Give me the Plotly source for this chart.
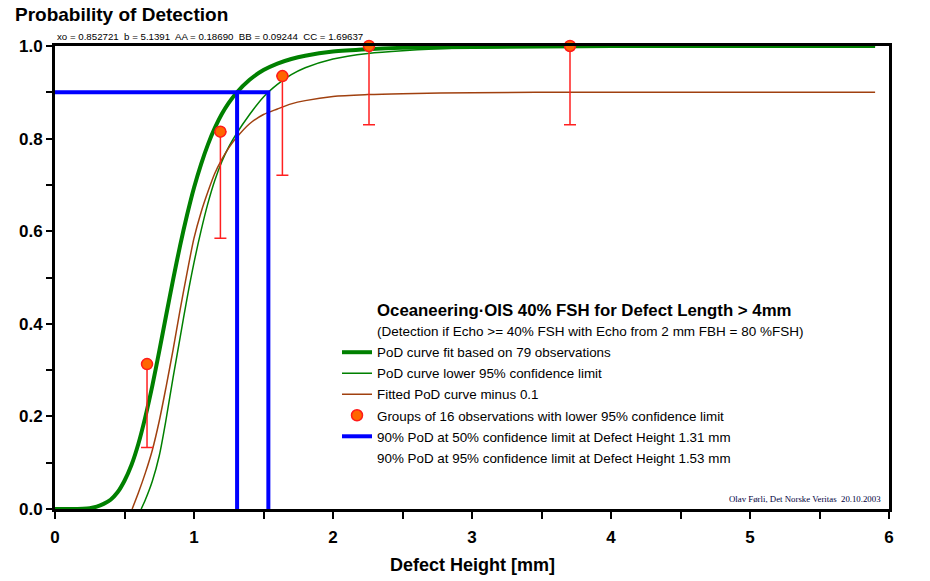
import plotly.graph_objects as go

# ---------------- data ----------------
fit_x = [0, 0.1, 0.2, 0.25, 0.3, 0.35, 0.4, 0.45, 0.5, 0.55, 0.6, 0.65, 0.7, 0.75, 0.8,
         0.85, 0.9, 0.95, 1.0, 1.05, 1.1, 1.15, 1.2, 1.25, 1.3, 1.4, 1.5, 1.6, 1.7, 1.8,
         2.0, 2.25, 2.5, 3.0, 3.5, 4.0, 5.0, 5.9]
fit_y = [0, 0.0, 0.0006, 0.0017, 0.005, 0.011, 0.020, 0.036, 0.061, 0.095, 0.141, 0.199,
         0.266, 0.341, 0.419, 0.496, 0.569, 0.635, 0.694, 0.744, 0.787, 0.823, 0.853,
         0.877, 0.897, 0.927, 0.948, 0.962, 0.972, 0.979, 0.988, 0.993, 0.996, 0.998,
         0.999, 1.0, 1.0, 1.0]

low_x = [0.62, 0.65, 0.7, 0.75, 0.8, 0.85, 0.9, 0.95, 1.0, 1.05, 1.1, 1.15, 1.2, 1.25,
         1.3, 1.4, 1.5, 1.6, 1.7, 1.8, 2.0, 2.25, 2.5, 3.0, 3.5, 4.5, 5.9]
low_y = [0.0, 0.02, 0.06, 0.115, 0.195, 0.285, 0.37, 0.455, 0.532, 0.6, 0.66, 0.71, 0.75,
         0.782, 0.808, 0.852, 0.89, 0.917, 0.938, 0.953, 0.972, 0.984, 0.99, 0.996, 0.998,
         0.999, 1.0]

minus_x = [0.555, 0.6, 0.65, 0.7, 0.75, 0.8, 0.85, 0.9, 0.95, 1.0, 1.05, 1.1, 1.15, 1.2,
           1.25, 1.3, 1.4, 1.5, 1.6, 1.7, 1.8, 2.0, 2.25, 2.5, 3.0, 3.6, 5.9]
minus_y = [0.0, 0.035, 0.078, 0.127, 0.19, 0.265, 0.345, 0.43, 0.51, 0.585, 0.64, 0.685,
           0.725, 0.755, 0.78, 0.8, 0.832, 0.852, 0.864, 0.875, 0.882, 0.891, 0.895, 0.897,
           0.899, 0.9, 0.9]

grp_x = [0.662, 1.19, 1.636, 2.259, 3.705]
grp_y = [0.313, 0.815, 0.935, 1.0, 1.0]
grp_lower = [0.133, 0.585, 0.721, 0.830, 0.830]

pod_level = 0.9
height_50 = 1.31
height_95 = 1.535

params_text = "xo = 0.852721  b = 5.1391  AA = 0.18690  BB = 0.09244  CC = 1.69637"
legend_title = "Oceaneering·OIS 40% FSH for Defect Length > 4mm"
legend_sub = "(Detection if Echo >= 40% FSH with Echo from 2 mm FBH = 80 %FSH)"
names = ["PoD curve fit based on 79 observations",
         "PoD curve lower 95% confidence limit",
         "Fitted PoD curve minus 0.1",
         "Groups of 16 observations with lower 95% confidence limit",
         "90% PoD at 50% confidence limit at Defect Height 1.31 mm",
         "90% PoD at 95% confidence limit at Defect Height 1.53 mm"]
credit = "Olav Førli, Det Norske Veritas  20.10.2003"

SANS = "Liberation Sans, Arial, sans-serif"
SERIF = "Liberation Serif, Times New Roman, serif"

fig = go.Figure()
fig.add_trace(go.Scatter(x=fit_x, y=fit_y, mode="lines", name=names[0], legendgroup="a",
                         line=dict(color="#008000", width=4, shape="spline", smoothing=0.8),
                         cliponaxis=False))
fig.add_trace(go.Scatter(x=low_x, y=low_y, mode="lines", name=names[1], legendgroup="b",
                         line=dict(color="#008000", width=1.5, shape="spline", smoothing=0.8)))
fig.add_trace(go.Scatter(x=minus_x, y=minus_y, mode="lines", name=names[2], legendgroup="c",
                         line=dict(color="#A0400F", width=1.5, shape="spline", smoothing=0.8)))
err_minus = [g - l for g, l in zip(grp_y, grp_lower)]
fig.add_trace(go.Scatter(x=grp_x, y=grp_y, mode="markers", name=names[3], legendgroup="d",
                         marker=dict(size=11, color="#FF6600", line=dict(color="#FF1A1A", width=1.5)),
                         error_y=dict(type="data", symmetric=False, array=[0] * len(grp_x),
                                      arrayminus=err_minus, color="#FF2020", thickness=1.5, width=6),
                         cliponaxis=False))
fig.add_trace(go.Scatter(x=[0, height_50, height_50], y=[pod_level, pod_level, 0],
                         mode="lines", name=names[4], legendgroup="e",
                         line=dict(color="#0000FF", width=4)))
fig.add_trace(go.Scatter(x=[height_50, height_95, height_95], y=[pod_level, pod_level, 0],
                         mode="lines", showlegend=False,
                         line=dict(color="#0000FF", width=4)))
fig.add_trace(go.Scatter(x=[None], y=[None], mode="lines", name=names[5], legendgroup="f",
                         line=dict(color="rgba(0,0,0,0)", width=0)))

FW, FH = 930, 581
L, T, PW, PH = 55, 46, 834, 463


def px(xp):
    return (xp - L) / PW


def py(yp):
    return (T + PH - yp) / PH


fig.update_layout(
    width=FW, height=FH,
    margin=dict(l=L, r=FW - L - PW, t=T, b=FH - T - PH),
    paper_bgcolor="white", plot_bgcolor="white",
    font=dict(family=SANS, color="black"),
    showlegend=True,
    legend=dict(x=px(337), y=py(337), xanchor="left", yanchor="top",
                font=dict(size=13.4, family=SANS, color="black"),
                bgcolor="rgba(0,0,0,0)", borderwidth=0, tracegroupgap=0.6,
                itemwidth=30, traceorder="grouped"),
    xaxis=dict(range=[0, 6], dtick=1, tick0=0, showgrid=False, zeroline=False,
               showline=True, linecolor="black", linewidth=3, mirror=True, automargin=False,
               ticks="outside", ticklen=7, tickwidth=2, tickcolor="black",
               tickfont=dict(size=17, family=SANS, color="black", weight="bold"),
               ticklabelstandoff=4,
               minor=dict(dtick=0.5, ticks="outside", ticklen=7, tickwidth=2, tickcolor="black")),
    yaxis=dict(range=[0, 1], dtick=0.2, tick0=0, tickformat=".1f", showgrid=False,
               zeroline=False, showline=True, linecolor="black", linewidth=3, mirror=True,
               automargin=False,
               ticks="outside", ticklen=6, tickwidth=2, tickcolor="black",
               tickfont=dict(size=17, family=SANS, color="black", weight="bold"),
               ticklabelstandoff=0,
               minor=dict(dtick=0.1, ticks="outside", ticklen=6, tickwidth=2, tickcolor="black")),
)

ann = [
    dict(text="<b>Probability of Detection</b>", x=px(13), y=py(14), xanchor="left",
         yanchor="middle", font=dict(size=19, family=SANS, color="black")),
    dict(text=params_text, x=px(55), y=py(36), xanchor="left", yanchor="middle",
         font=dict(size=9.7, family=SANS, color="black")),
    dict(text="<b>" + legend_title + "</b>", x=px(375), y=py(311), xanchor="left",
         yanchor="middle", font=dict(size=16.8, family=SANS, color="black")),
    dict(text=legend_sub, x=px(375), y=py(331), xanchor="left", yanchor="middle",
         font=dict(size=13.5, family=SANS, color="black")),
    dict(text=credit, x=px(727), y=py(499), xanchor="left", yanchor="middle",
         font=dict(size=8.8, family=SERIF, color="#000040")),
    dict(text="<b>Defect Height [mm]</b>", x=px(472), y=py(565), xanchor="center",
         yanchor="middle", font=dict(size=18, family=SANS, color="black")),
]
for a in ann:
    a.update(xref="paper", yref="paper", showarrow=False)
fig.update_layout(annotations=ann)

fig.write_html("out.html",
               config={"displayModeBar": False},
               post_script="document.body.style.margin='0px';"
                           "document.body.style.overflow='hidden';")
